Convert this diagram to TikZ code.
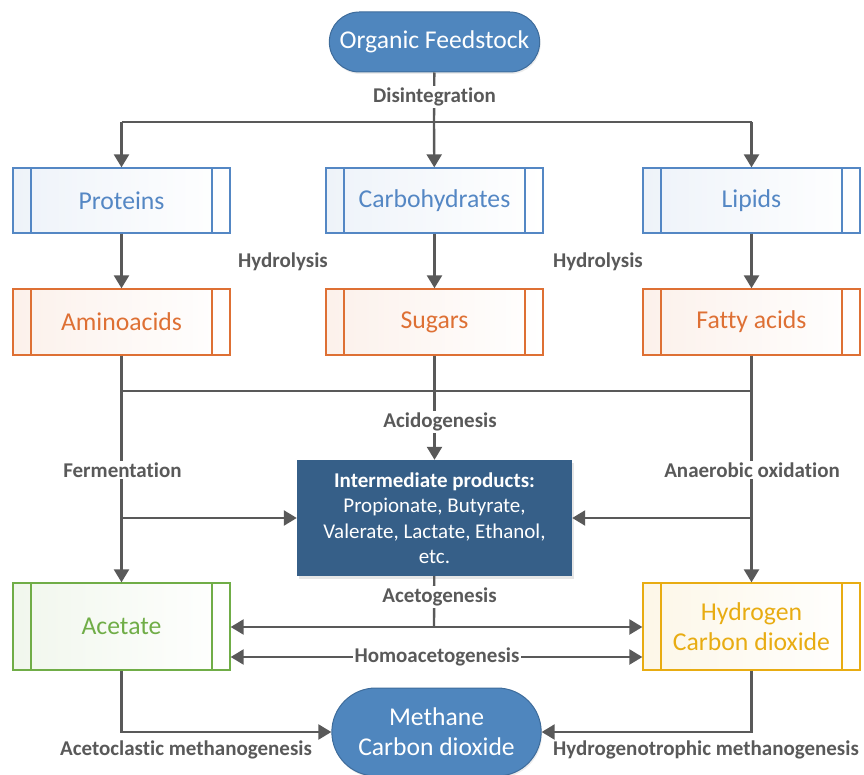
\documentclass[tikz,border=0pt]{standalone}
\usepackage{fontspec}
\setmainfont[Ligatures=CommonOff]{Carlito}
\usetikzlibrary{arrows.meta,shapes.misc,shadows}

\definecolor{pillblue}{RGB}{79,134,190}
\definecolor{pilledge}{RGB}{62,108,155}
\definecolor{interblue}{RGB}{54,95,136}
\definecolor{protblue}{RGB}{84,135,196}
\definecolor{aminoorange}{RGB}{222,112,52}
\definecolor{acetgreen}{RGB}{112,173,71}
\definecolor{hydgold}{RGB}{232,172,18}
\definecolor{flowgray}{RGB}{89,89,89}

\begin{document}
\begin{tikzpicture}[
        x=1pt, y=-1pt,
        box/.style={draw=#1, line width=1.3pt, minimum width=217pt, minimum height=65pt,
            left color=#1!10, right color=white, text=#1, align=center, inner sep=0pt,
            font=\fontsize{25.7}{30}\selectfont,
            path picture={\draw[#1, line width=1.3pt]
                ([xshift=18pt]path picture bounding box.north west) -- ([xshift=18pt]path picture bounding box.south west)
                ([xshift=-18pt]path picture bounding box.north east) -- ([xshift=-18pt]path picture bounding box.south east);}},
        pill/.style={rounded rectangle, draw=pilledge, fill=pillblue, text=white, line width=1pt,
            minimum width=217pt, align=center, font=\fontsize{25.6}{30}\selectfont,
            drop shadow={opacity=0.15, shadow xshift=1pt, shadow yshift=-2pt}},
        flow/.style={draw=flowgray, line width=2.4pt},
        arr/.style={flow, -{Triangle[width=15pt,length=13pt]}},
        dblarr/.style={flow, {Triangle[width=15pt,length=13pt]}-{Triangle[width=15pt,length=13pt]}},
        lbl/.style={text=flowgray, font=\bfseries\fontsize{21}{25}\selectfont, inner sep=1.5pt},
        gap/.style={lbl, fill=white}
    ]

    \useasboundingbox (0,0) rectangle (864,775);

    % sources
    \node[pill, minimum height=60pt] (feed) at (434.5,42) {Organic Feedstock};

    \node[box=protblue] (prot) at (121.5,200.5) {Proteins};
    \node[box=protblue] (carb) at (434.5,200.5) {Carbohydrates};
    \node[box=protblue] (lip) at (751.5,200.5) {Lipids};

    \node[box=aminoorange, minimum height=66pt] (amino) at (121.5,322) {Aminoacids};
    \node[box=aminoorange, minimum height=66pt] (sug) at (434.5,322) {Sugars};
    \node[box=aminoorange, minimum height=66pt] (fat) at (751.5,322) {Fatty acids};

    \node[fill=interblue, text=white, minimum width=275pt, minimum height=116pt, align=center,
        font=\fontsize{21}{25.5}\selectfont,
        drop shadow={opacity=0.2, shadow xshift=2pt, shadow yshift=-3pt}] (inter) at (434.5,518)
        {\textbf{Intermediate products:}\\Propionate, Butyrate,\\Valerate, Lactate, Ethanol,\\etc.};

    \node[box=acetgreen, minimum height=87pt] (acet) at (121.5,626.5) {Acetate};
    \node[box=hydgold, minimum height=87pt] (hyd) at (751.5,626.5) {Hydrogen\\Carbon dioxide};

    \node[pill, minimum width=216pt, minimum height=88pt] (meth) at (436.5,732) {Methane\\Carbon dioxide};

    % connectors
    \coordinate (d) at (434,122);
    \coordinate (a) at (434,391);
    \coordinate (g) at (434,627);
    \coordinate (h) at (434,657);

    \draw[flow] (feed) -- (d);
    \draw[flow] (prot.south |- d) -- (lip.south |- d);
    \draw[arr] (prot.south |- d) -- (prot);
    \draw[arr] (d) -- (carb);
    \draw[arr] (lip.south |- d) -- (lip);

    \draw[arr] (prot) -- (amino);
    \draw[arr] (carb) -- (sug);
    \draw[arr] (lip) -- (fat);

    \draw[flow] (amino.south |- a) -- (fat.south |- a);
    \draw[arr] (amino) -- (acet);
    \draw[arr] (sug) -- (inter);
    \draw[arr] (fat) -- (hyd);
    \draw[arr] (amino.south |- inter) -- (inter);
    \draw[arr] (fat.south |- inter) -- (inter);

    \draw[flow] (inter) -- (g);
    \draw[arr] (g) -- (acet.east |- g);
    \draw[arr] (g) -- (hyd.west |- g);
    \draw[dblarr] (acet.east |- h) -- (hyd.west |- h);

    \draw[arr] (acet) |- (meth);
    \draw[arr] (hyd) |- (meth);

    % labels
    \node[gap] (ldis) at (434.5,97) {Disintegration};
    \node[lbl] (lhyd1) at (283,262) {Hydrolysis};
    \node[lbl] (lhyd2) at (598,262) {Hydrolysis};
    \node[gap] (lacid) at (440,422) {Acidogenesis};
    \node[gap] (lferm) at (122.5,470) {Fermentation};
    \node[gap] (lanox) at (752,470) {Anaerobic oxidation};
    \node[gap] (lacet) at (439.5,597) {Acetogenesis};
    \node[gap] (lhomo) at (437,657) {Homoacetogenesis};
    \node[lbl] (lclas) at (186,750) {Acetoclastic methanogenesis};
    \node[lbl] (ltroph) at (706,750) {Hydrogenotrophic methanogenesis};
\end{tikzpicture}
\end{document}
